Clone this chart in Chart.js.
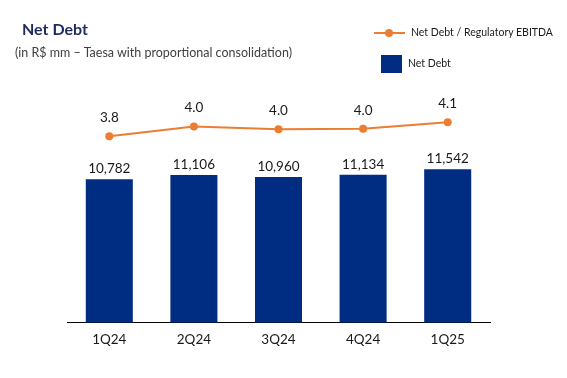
<!DOCTYPE html>
<html>
<head>
<meta charset="utf-8">
<script src="https://cdn.jsdelivr.net/npm/chart.js@4"></script>
<style>
  html, body { margin: 0; padding: 0; background: #fff; }
  #wrap { position: relative; width: 567px; height: 378px; font-family: Lato, "Open Sans", sans-serif; }
  canvas { position: absolute; left: 0; top: 0; }
  .t { position: absolute; white-space: nowrap; line-height: 1; }
  #title { left: 22px; top: 21px; font-size: 16px; font-weight: bold; color: #1F2A5E; }
  #sub { left: 15px; top: 47px; font-size: 12.5px; color: #404040; }
  #lg1 { left: 411px; top: 27px; font-size: 10.5px; color: #1a1a1a; }
  #lg2 { left: 408px; top: 58px; font-size: 10.5px; color: #1a1a1a; }
  #lgline { position: absolute; left: 374px; top: 32px; width: 31px; height: 2px; background: #ED7D31; }
  #lgdot { position: absolute; left: 385px; top: 29px; width: 8px; height: 8px; border-radius: 50%; background: #ED7D31; }
  #lgsq { position: absolute; left: 381px; top: 55px; width: 21px; height: 18px; background: #002D82; }
</style>
</head>
<body>
<div id="wrap">
  <canvas id="c" width="567" height="378"></canvas>
  <div class="t" id="title">Net Debt</div>
  <div class="t" id="sub">(in R$ mm – Taesa with proportional consolidation)</div>
  <div id="lgline"></div><div id="lgdot"></div>
  <div class="t" id="lg1">Net Debt / Regulatory EBITDA</div>
  <div id="lgsq"></div>
  <div class="t" id="lg2">Net Debt</div>
</div>
<script>
const categories = ["1Q24", "2Q24", "3Q24", "4Q24", "1Q25"];
const netDebt = [10782, 11106, 10960, 11134, 11542];
const leverage = [3.80, 4.01, 3.95, 3.96, 4.10];
const leverageLabels = ["3.8", "4.0", "4.0", "4.0", "4.1"];

const FONT = "Lato, 'Open Sans', sans-serif";

const labelPlugin = {
  id: 'valueLabels',
  afterDatasetsDraw(chart) {
    const ctx = chart.ctx;
    ctx.save();
    ctx.font = "13.5px " + FONT;
    ctx.fillStyle = "#1a1a1a";
    ctx.textAlign = "center";
    ctx.textBaseline = "alphabetic";
    chart.data.datasets.forEach((ds, i) => {
      const meta = chart.getDatasetMeta(i);
      meta.data.forEach((el, j) => {
        let txt, y;
        if (ds.type === 'bar') {
          txt = netDebt[j].toLocaleString('en-US');
          y = el.y - 6;
        } else {
          txt = leverageLabels[j];
          y = el.y - 14;
        }
        ctx.fillText(txt, el.x, y);
      });
    });
    ctx.restore();
  }
};

new Chart(document.getElementById('c'), {
  data: {
    labels: categories,
    datasets: [
      {
        type: 'line',
        label: 'Net Debt / Regulatory EBITDA',
        data: leverage,
        yAxisID: 'y2',
        borderColor: '#ED7D31',
        backgroundColor: '#ED7D31',
        borderWidth: 2,
        pointRadius: 4,
        pointBackgroundColor: '#ED7D31',
        pointBorderWidth: 0,
        tension: 0,
        order: 0
      },
      {
        type: 'bar',
        label: 'Net Debt',
        data: netDebt,
        yAxisID: 'y',
        backgroundColor: '#002D82',
        barPercentage: 0.556,
        categoryPercentage: 1.0,
        order: 1
      }
    ]
  },
  options: {
    responsive: false,
    animation: false,
    devicePixelRatio: 1,
    layout: { padding: { left: 67, right: 77, top: 95, bottom: 21 } },
    plugins: { legend: { display: false }, tooltip: { enabled: false } },
    scales: {
      x: {
        grid: { display: false, drawTicks: false },
        border: { display: true, color: '#000', width: 1 },
        ticks: { color: '#1a1a1a', font: { family: FONT, size: 13.5 }, padding: 9 }
      },
      y: { display: false, min: 0, max: 17120 },
      y2: { display: false, min: -0.18, max: 4.68 }
    }
  },
  plugins: [labelPlugin]
});
</script>
</body>
</html>
